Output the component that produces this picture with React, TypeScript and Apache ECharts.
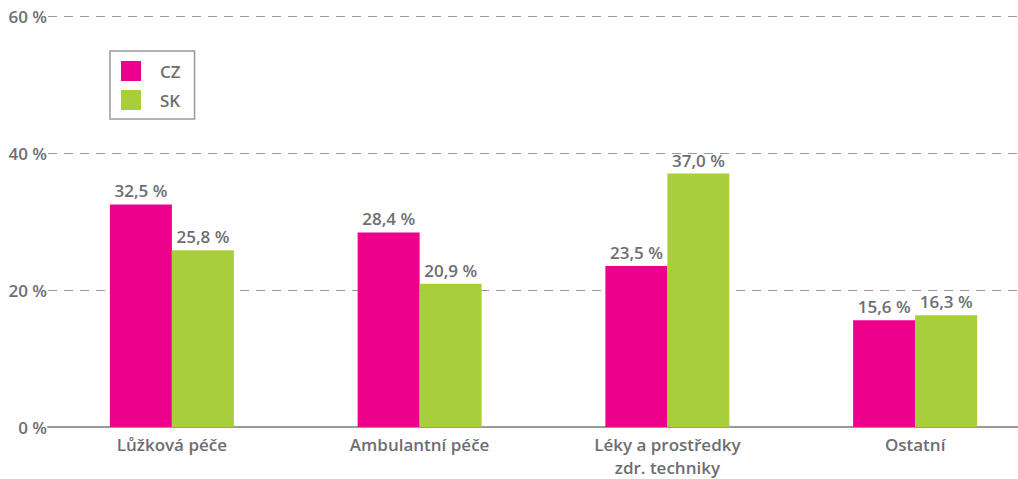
import React, { useEffect, useRef } from "react";
import * as echarts from "echarts";

const categories = ["Lůžková péče", "Ambulantní péče", "Léky a prostředky\nzdr. techniky", "Ostatní"];
const czValues = [32.5, 28.4, 23.5, 15.6];
const skValues = [25.8, 20.9, 37.0, 16.3];
const yTicks = [0, 20, 40, 60];

const FONT = "'Open Sans', 'Noto Sans', sans-serif";
const fmt = (v: number) => v.toFixed(1).replace(".", ",") + " %";

export default function App() {
  const ref = useRef<HTMLDivElement>(null);
  useEffect(() => {
    if (!ref.current) return;
    const chart = echarts.init(ref.current, undefined, { renderer: "svg" });
    const labelStyle = {
      show: true,
      position: "top" as const,
      distance: 5,
      color: "#6d6e71",
      fontFamily: FONT,
      fontWeight: 600,
      fontSize: 17,
      formatter: (p: any) => fmt(p.value),
    };
    chart.setOption({
      animation: false,
      backgroundColor: "#ffffff",
      grid: { left: 48, right: 0, top: 16, bottom: 46, containLabel: false },
      legend: {
        orient: "vertical",
        left: 110,
        top: 51,
        padding: [10, 14, 9, 11],
        itemWidth: 20,
        itemHeight: 20,
        itemGap: 9,
        borderColor: "#9a9a9a",
        borderWidth: 1.5,
        icon: "rect",
        textStyle: {
          color: "#6d6e71",
          fontFamily: FONT,
          fontSize: 17,
          fontWeight: 600,
          padding: [0, 0, 0, 14],
        },
        data: ["CZ", "SK"],
      },
      xAxis: {
        type: "category",
        data: categories,
        axisLine: { show: true, lineStyle: { color: "#9a9a9a", width: 2 } },
        axisTick: { show: false },
        axisLabel: {
          color: "#6d6e71",
          fontFamily: FONT,
          fontSize: 17,
          fontWeight: 600,
          margin: 6,
          lineHeight: 23,
        },
      },
      yAxis: {
        type: "value",
        min: 0,
        max: 60,
        interval: 20,
        axisLine: { show: false },
        axisTick: { show: false },
        splitLine: {
          show: true,
          lineStyle: { color: "#9a9a9a", width: 1.2, type: [9, 7] },
        },
        axisLabel: {
          color: "#6d6e71",
          fontFamily: FONT,
          fontSize: 17,
          fontWeight: 600,
          margin: 1,
          formatter: (v: number) => (yTicks.includes(v) ? `${v} %` : ""),
        },
      },
      series: [
        {
          name: "CZ",
          type: "bar",
          data: czValues,
          barWidth: 62,
          barGap: "0%",
          itemStyle: { color: "#ec008c" },
          label: labelStyle,
        },
        {
          name: "SK",
          type: "bar",
          data: skValues,
          barWidth: 62,
          barGap: "0%",
          itemStyle: { color: "#a8cf3a" },
          label: labelStyle,
        },
      ],
    });
    return () => chart.dispose();
  }, []);
  return (
    <div
      style={{ position: "fixed", left: 0, top: 0, width: 1018, height: 479, overflow: "hidden", background: "#fff" }}
    >
      <div ref={ref} style={{ position: "absolute", left: 0, top: 0, width: 1039, height: 479 }} />
    </div>
  );
}
